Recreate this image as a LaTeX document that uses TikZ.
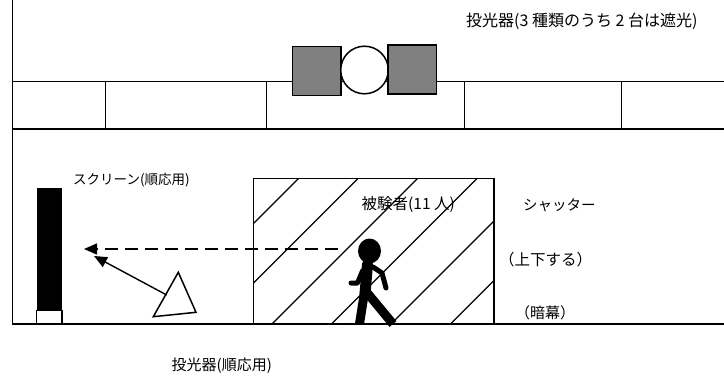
\documentclass[tikz,border=0pt]{standalone}
\usepackage{fontspec}
\setmainfont{Noto Sans CJK JP}
\usetikzlibrary{arrows.meta}

\tikzset{
  wall/.style={line width=1pt},
  thickwall/.style={line width=2pt},
  lamp/.style={draw, line width=1.5pt},
  label/.style={inner sep=0pt, anchor=west},
  ray/.style={line width=1.4pt, -{Triangle[length=13pt,width=11pt]}},
  body/.style={line width=#1, line cap=round, line join=round},
}

\begin{document}
\begin{tikzpicture}[x=1pt,y=-1pt]
  \useasboundingbox (0,0) rectangle (724,378);

  % ceiling rail with the three projectors
  \draw[wall] (12,0) -- (12,324);
  \draw[wall] (12,81) -- (724,81);
  \draw[thickwall] (12,129) -- (724,129);
  \foreach \x in {105,266,464,621}
    \draw[wall] (\x,81) -- (\x,129);
  \draw[lamp, fill=gray] (292.7,46.7) rectangle (341,95.7);
  \draw[lamp, fill=white] (364.5,70) circle (23.8);
  \draw[lamp, fill=gray] (388,45) rectangle (436.7,94);
  \node[label, font=\fontsize{16}{18}\selectfont] (topnote) at (466,21) {投光器(3 種類のうち 2 台は遮光)};

  % screen for adaptation
  \fill (36.7,187.7) rectangle (62,310.7);
  \draw[line width=1.2pt] (36.7,310.7) rectangle (62,324);
  \node[label, font=\fontsize{13.5}{15}\selectfont] (screen) at (73,180) {スクリーン(順応用)};

  % shutter with hatching
  \begin{scope}
    \clip (253.3,178.3) rectangle (494,324);
    \foreach \c in {477,536.5,...,775}
      \draw[line width=1.3pt] (\c-340,340) -- (\c-160,160);
  \end{scope}
  \draw[line width=1.5pt] (253.3,324) -- (253.3,178.3) -- (494,178.3) -- (494,324);
  \node[label, font=\fontsize{15.5}{17}\selectfont] (subject) at (361.5,205) {被験者(11 人)};
  \node[label, font=\fontsize{14.5}{16}\selectfont] (shutter) at (523,205) {シャッター};
  \node[label, font=\fontsize{15.5}{17}\selectfont] (updown) at (499,260) {（上下する）};
  \node[label, font=\fontsize{15}{17}\selectfont] (curtain) at (515,313) {（暗幕）};

  % walking subject
  \fill (369.5,251) ellipse (11.5 and 12.5);
  \draw[body=11pt] (367.5,264) -- (365,294);
  \draw[line width=9pt] (364.5,292) -- (359.5,324);
  \draw[line width=9pt] (366.5,292) -- (393,324);
  \draw[body=5pt] (362.5,271) -- (357.5,283) -- (351,283);
  \draw[body=5pt] (373,267) -- (382,273) -- (386,288);

  % projector on the floor
  \draw[line width=1.5pt] (178.3,272.3) -- (153.3,316.7) -- (196,312.3) -- cycle;
  \node[label, font=\fontsize{15}{17}\selectfont] (floorlamp) at (171.5,366) {投光器(順応用)};

  % floor
  \draw[thickwall] (12,324) -- (724,324);

  % light paths
  \coordinate (gaze) at (338,249);
  \coordinate (gazeend) at (84,249);
  \coordinate (beam) at (166.7,295);
  \coordinate (beamend) at (94,256);
  \draw[ray, dash pattern=on 13pt off 7pt] (gaze) -- (gazeend);
  \draw[ray] (beam) -- (beamend);
\end{tikzpicture}
\end{document}
